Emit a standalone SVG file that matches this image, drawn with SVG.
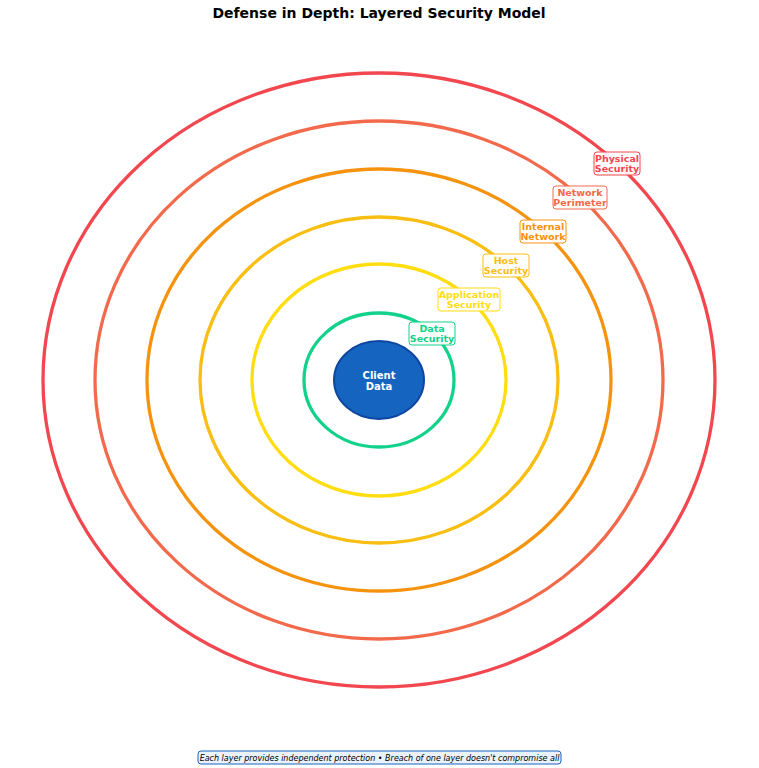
<svg xmlns="http://www.w3.org/2000/svg" width="759" height="768" viewBox="0 0 759 768">
<style>
.ring{fill:none;stroke-width:3.3}
.lb{fill:#fff;fill-opacity:0.9;stroke-width:1}
.lt{font-family:"DejaVu Sans",sans-serif;font-size:9.5px;font-weight:bold;text-anchor:middle}
</style>
<rect width="759" height="768" fill="#fff"/>
<text x="379" y="18" font-family="DejaVu Sans,sans-serif" font-size="14" font-weight="bold" text-anchor="middle">Defense in Depth: Layered Security Model</text>
<g id="layers">
<g id="physical"><ellipse class="ring" cx="379" cy="380" rx="336" ry="307" stroke="#F2474F"/></g>
<g id="perimeter"><ellipse class="ring" cx="379" cy="380" rx="284" ry="259" stroke="#F26A4B"/></g>
<g id="internal"><ellipse class="ring" cx="379" cy="380" rx="232" ry="211" stroke="#F5930F"/></g>
<g id="host"><ellipse class="ring" cx="379" cy="380" rx="179" ry="163" stroke="#F9BE12"/></g>
<g id="application"><ellipse class="ring" cx="379" cy="380" rx="127" ry="116" stroke="#FFDD10"/></g>
<g id="data"><ellipse class="ring" cx="379" cy="380" rx="75" ry="67" stroke="#12D18A"/></g>
<g id="client"><ellipse cx="379" cy="380" rx="45" ry="39" fill="#1565C0" stroke="#0D47A1" stroke-width="2"/>
<text class="lt" x="379" y="379" fill="#fff" style="font-size:10px">Client</text><text class="lt" x="379" y="390" fill="#fff" style="font-size:10px">Data</text></g>
</g>
<g id="labels">
<g id="lbl-physical"><rect class="lb" x="594" y="152" width="46" height="23" rx="3" stroke="#F2474F"/><text class="lt" x="617" y="162" fill="#F2474F">Physical</text><text class="lt" x="617" y="172" fill="#F2474F">Security</text></g>
<g id="lbl-perimeter"><rect class="lb" x="553" y="186" width="54" height="23" rx="3" stroke="#F26A4B"/><text class="lt" x="580" y="196" fill="#F26A4B">Network</text><text class="lt" x="580" y="206" fill="#F26A4B">Perimeter</text></g>
<g id="lbl-internal"><rect class="lb" x="520" y="220" width="46" height="23" rx="3" stroke="#F5930F"/><text class="lt" x="543" y="230" fill="#F5930F">Internal</text><text class="lt" x="543" y="240" fill="#F5930F">Network</text></g>
<g id="lbl-host"><rect class="lb" x="483" y="254" width="46" height="23" rx="3" stroke="#F9BE12"/><text class="lt" x="506" y="264" fill="#F9BE12">Host</text><text class="lt" x="506" y="274" fill="#F9BE12">Security</text></g>
<g id="lbl-application"><rect class="lb" x="438" y="288" width="62" height="23" rx="3" stroke="#FFDD10"/><text class="lt" x="469" y="298" fill="#FFDD10">Application</text><text class="lt" x="469" y="308" fill="#FFDD10">Security</text></g>
<g id="lbl-data"><rect class="lb" x="409" y="322" width="46" height="23" rx="3" stroke="#12D18A"/><text class="lt" x="432" y="332" fill="#12D18A">Data</text><text class="lt" x="432" y="342" fill="#12D18A">Security</text></g>
</g>
<g id="connectors"/>
<g id="footer"><rect x="198" y="751" width="363" height="13" rx="3" fill="#EAF2FB" stroke="#1565C0" stroke-width="1"/>
<text x="379.5" y="761" font-family="DejaVu Sans,sans-serif" font-size="8" font-style="italic" text-anchor="middle">Each layer provides independent protection • Breach of one layer doesn't compromise all</text></g>
</svg>
